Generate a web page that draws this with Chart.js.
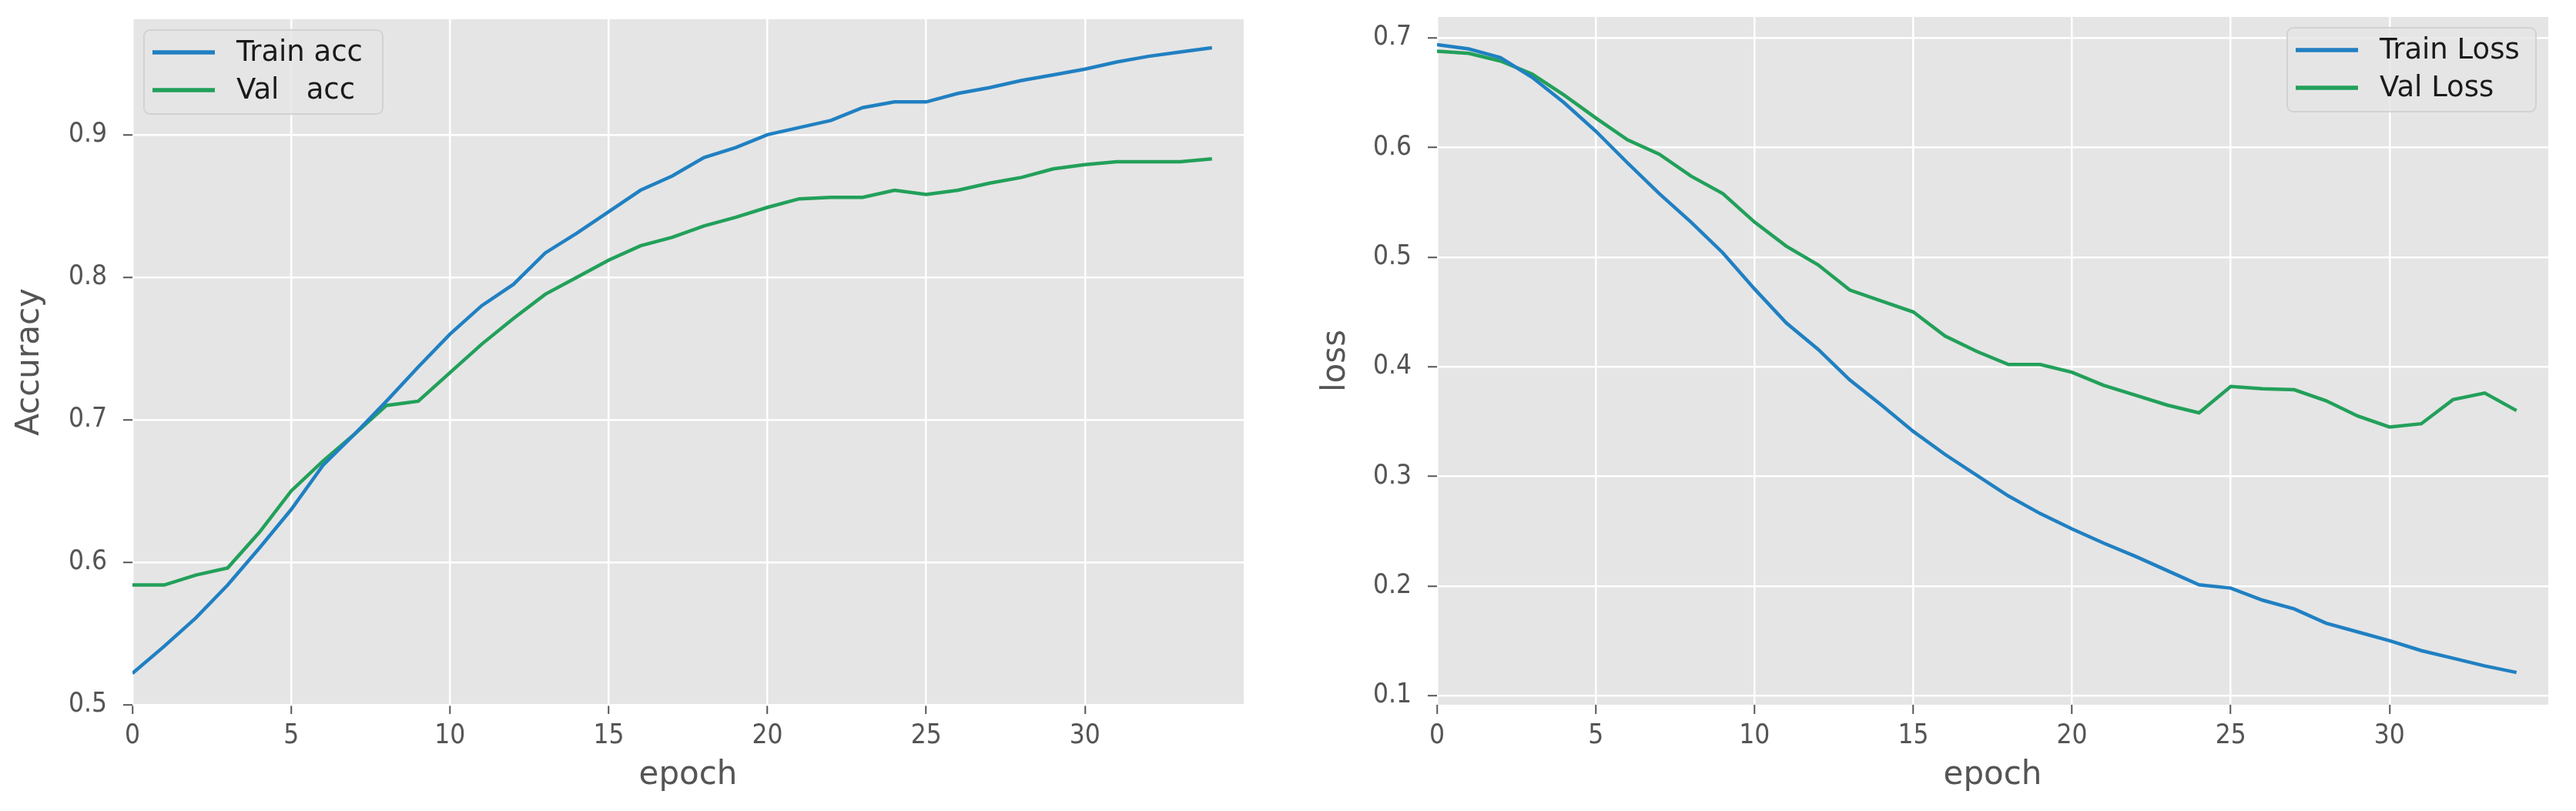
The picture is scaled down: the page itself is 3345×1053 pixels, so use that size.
<!DOCTYPE html>
<html>
<head>
<meta charset="utf-8">
<script src="https://cdn.jsdelivr.net/npm/chart.js@4.4.1/dist/chart.umd.min.js"></script>
<style>
  body { margin: 0; background: #fff; }
  .box { position: absolute; top: 0; height: 1053px; }
</style>
</head>
<body>
<div class="box" style="left:0;width:1650px"><canvas id="acc" width="1650" height="1053"></canvas></div>
<div class="box" style="left:1650px;width:1695px"><canvas id="loss" width="1695" height="1053"></canvas></div>
<script>
const epochs = [0, 1, 2, 3, 4, 5, 6, 7, 8, 9, 10, 11, 12, 13, 14, 15, 16, 17,
  18, 19, 20, 21, 22, 23, 24, 25, 26, 27, 28, 29, 30, 31, 32, 33, 34];

const trainAcc = [0.522, 0.541, 0.561, 0.584, 0.610, 0.637, 0.668, 0.690, 0.713,
  0.737, 0.760, 0.780, 0.795, 0.817, 0.831, 0.846, 0.861, 0.871, 0.884, 0.891,
  0.900, 0.905, 0.910, 0.919, 0.923, 0.923, 0.929, 0.933, 0.938, 0.942, 0.946,
  0.951, 0.955, 0.958, 0.961];
const valAcc = [0.584, 0.584, 0.591, 0.596, 0.621, 0.650, 0.671, 0.690, 0.710,
  0.713, 0.733, 0.753, 0.771, 0.788, 0.800, 0.812, 0.822, 0.828, 0.836, 0.842,
  0.849, 0.855, 0.856, 0.856, 0.861, 0.858, 0.861, 0.866, 0.870, 0.876, 0.879,
  0.881, 0.881, 0.881, 0.883];

const trainLoss = [0.694, 0.690, 0.682, 0.664, 0.641, 0.615, 0.586, 0.558, 0.532,
  0.504, 0.471, 0.440, 0.416, 0.388, 0.365, 0.341, 0.320, 0.301, 0.282, 0.266,
  0.252, 0.239, 0.227, 0.214, 0.201, 0.198, 0.187, 0.179, 0.166, 0.158, 0.150,
  0.141, 0.134, 0.127, 0.121];
const valLoss = [0.688, 0.686, 0.679, 0.667, 0.648, 0.627, 0.607, 0.594, 0.574,
  0.558, 0.532, 0.510, 0.493, 0.470, 0.460, 0.450, 0.428, 0.414, 0.402, 0.402,
  0.395, 0.383, 0.374, 0.365, 0.358, 0.382, 0.380, 0.379, 0.369, 0.355, 0.345,
  0.348, 0.370, 0.376, 0.360];

const epochTicks = [0, 5, 10, 15, 20, 25, 30];
const accTicks = [0.5, 0.6, 0.7, 0.8, 0.9];
const lossTicks = [0.1, 0.2, 0.3, 0.4, 0.5, 0.6, 0.7];

const blue = '#2080c2';
const green = '#22a05a';
const grey = '#555555';
const tickFont = '"DejaVu Sans Condensed", "DejaVu Sans"';

// grey panel behind the plot, like ggplot style
const panelBg = {
  id: 'panelBg',
  beforeDraw(chart) {
    const { ctx, chartArea: a } = chart;
    ctx.save();
    ctx.fillStyle = '#e5e5e5';
    ctx.fillRect(a.left, a.top, a.right - a.left, a.bottom - a.top);
    ctx.restore();
  },
};

// legend box drawn inside the plot area
const boxLegend = {
  id: 'boxLegend',
  afterDatasetsDraw(chart, args, opts) {
    const { ctx, chartArea: a } = chart;
    const x = opts.side === 'left' ? a.left + opts.dx : a.right - opts.dx - opts.w;
    const y = a.top + opts.dy;
    ctx.save();
    ctx.beginPath();
    ctx.roundRect(x, y, opts.w, opts.h, 8);
    ctx.fillStyle = 'rgba(229,229,229,0.8)';
    ctx.fill();
    ctx.strokeStyle = '#d2d2d2';
    ctx.lineWidth = 2;
    ctx.stroke();
    ctx.font = '37px "DejaVu Sans"';
    ctx.textBaseline = 'alphabetic';
    chart.data.datasets.forEach((ds, i) => {
      const ly = y + 29 + i * 49;
      ctx.beginPath();
      ctx.moveTo(x + 11, ly);
      ctx.lineTo(x + 92, ly);
      ctx.strokeStyle = ds.borderColor;
      ctx.lineWidth = 5.5;
      ctx.stroke();
      ctx.fillStyle = '#1a1a1a';
      ctx.fillText(ds.label, x + 120, ly + 11);
    });
    ctx.restore();
  },
};

function makeChart(id, labels, series, yTicks, yMin, yMax, yTitle, yWidth, pad, titlePad, legend) {
  const datasets = series.map((s, i) => ({
    label: labels[i],
    data: s.map((v, k) => ({ x: epochs[k], y: v })),
    borderColor: i === 0 ? blue : green,
    borderWidth: 4.5,
    pointRadius: 0,
    tension: 0,
    fill: false,
  }));
  return new Chart(document.getElementById(id), {
    type: 'line',
    data: { datasets },
    plugins: [panelBg, boxLegend],
    options: {
      responsive: false,
      animation: false,
      devicePixelRatio: 1,
      layout: { padding: pad },
      plugins: {
        legend: { display: false },
        tooltip: { enabled: false },
        boxLegend: legend,
      },
      scales: {
        x: {
          type: 'linear',
          min: 0,
          max: 35,
          afterBuildTicks: (s) => { s.ticks = epochTicks.map((v) => ({ value: v })); },
          afterFit: (s) => { s.height = 138; s.paddingLeft = 0; s.paddingRight = 0; },
          border: { display: false },
          grid: { color: '#ffffff', lineWidth: 2.5, tickLength: 12, tickColor: grey, tickWidth: 2 },
          ticks: { color: grey, padding: 8, font: { family: tickFont, size: 35 } },
          title: {
            display: true, text: 'epoch', color: grey,
            font: { family: 'DejaVu Sans', size: 42 }, padding: { top: 0, bottom: 21 },
          },
        },
        y: {
          min: yMin,
          max: yMax,
          afterBuildTicks: (s) => { s.ticks = yTicks.map((v) => ({ value: v })); },
          afterFit: (s) => { s.width = yWidth; s.paddingTop = 0; s.paddingBottom = 0; },
          border: { display: false },
          grid: { color: '#ffffff', lineWidth: 2.5, tickLength: 12, tickColor: grey, tickWidth: 2 },
          ticks: {
            color: grey, padding: 21, font: { family: tickFont, size: 35 },
            callback: (v) => v.toFixed(1),
          },
          title: {
            display: true, text: yTitle, color: grey,
            font: { family: 'DejaVu Sans', size: 42 }, padding: { top: titlePad, bottom: 0 },
          },
        },
      },
    },
  });
}

makeChart('acc', ['Train acc', 'Val   acc'], [trainAcc, valAcc], accTicks, 0.5, 0.981,
  'Accuracy', 172, { left: 0, top: 25, right: 35, bottom: 0 }, 14,
  { side: 'left', dx: 15, dy: 14, w: 310, h: 109 });

makeChart('loss', ['Train Loss', 'Val Loss'], [trainLoss, valLoss], lossTicks, 0.0916, 0.7192,
  'loss', 216, { left: 0, top: 22, right: 36, bottom: 0 }, 60,
  { side: 'right', dx: 16, dy: 14, w: 323, h: 109 });
</script>
</body>
</html>
